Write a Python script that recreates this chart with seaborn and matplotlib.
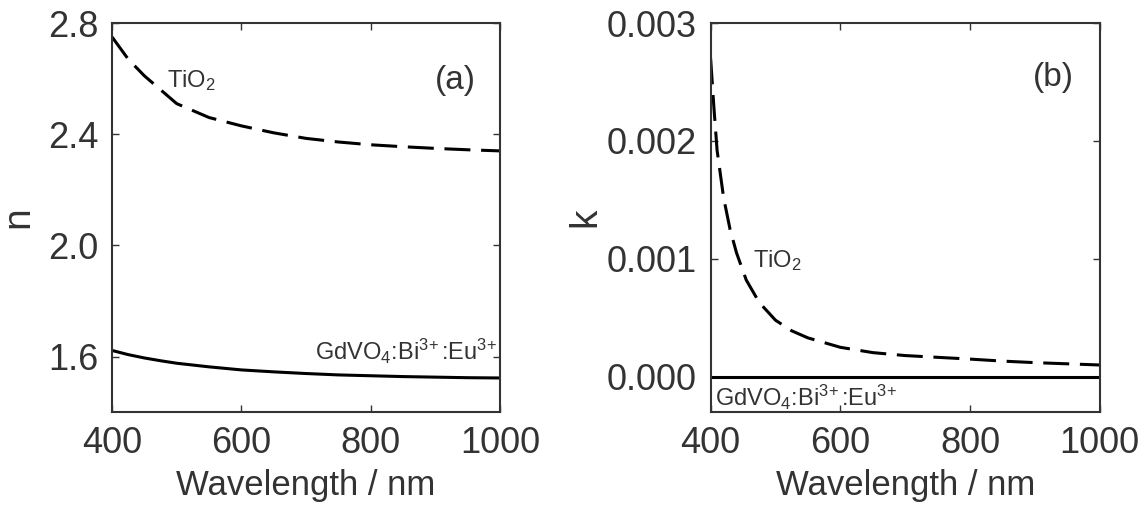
import numpy as np
import pandas as pd
import matplotlib
matplotlib.use("Agg")
import matplotlib.pyplot as plt
import seaborn as sns

# refractive index n (panel a)
wl_n = [400, 425, 450, 475, 500, 550, 600, 650, 700, 750, 800, 850, 900, 950, 1000]
n_tio2 = [2.75, 2.67, 2.61, 2.56, 2.51, 2.46, 2.43, 2.405, 2.385, 2.372, 2.362, 2.355, 2.349, 2.344, 2.34]
n_gdvo4 = [1.622, 1.607, 1.595, 1.585, 1.576, 1.563, 1.552, 1.545, 1.539, 1.534, 1.531, 1.528, 1.526, 1.524, 1.523]

# extinction coefficient k (panel b)
wl_k = [400, 405, 410, 420, 430, 440, 455, 475, 500, 525, 550, 600, 650, 700, 750, 800, 850, 900, 950, 1000]
k_tio2 = [0.0027, 0.00229, 0.00192, 0.00152, 0.00125, 0.00105, 0.00082, 0.00063, 0.00048, 0.00039,
          0.00033, 0.00025, 0.000205, 0.00018, 0.000165, 0.00015, 0.000133, 0.00012, 0.00011, 0.0001]
k_gdvo4 = [0.0] * len(wl_k)

sns.set_style("ticks")
plt.rcParams['font.family'] = ['Liberation Sans', 'DejaVu Sans']
plt.rcParams['mathtext.fontset'] = 'custom'
plt.rcParams['mathtext.rm'] = 'Liberation Sans'
plt.rcParams['mathtext.it'] = 'Liberation Sans'
plt.rcParams['mathtext.default'] = 'regular'

txt = '#333333'
lw = 2.2
gd_label = r'GdVO$_4$:Bi$^{3\!+}$:Eu$^{3\!+}$'

df_n = pd.DataFrame({'wl': wl_n, 'tio2': n_tio2, 'gdvo4': n_gdvo4})
df_k = pd.DataFrame({'wl': wl_k, 'tio2': k_tio2, 'gdvo4': k_gdvo4})

fig = plt.figure(figsize=(11.48, 5.12), dpi=100)
ax1 = fig.add_axes([0.0976, 0.195, 0.338, 0.760])
ax2 = fig.add_axes([0.619, 0.195, 0.339, 0.760])

sns.lineplot(data=df_n, x='wl', y='tio2', ax=ax1, color='black', lw=lw)
ax1.lines[-1].set_dashes((8.5, 3.5))
sns.lineplot(data=df_n, x='wl', y='gdvo4', ax=ax1, color='black', lw=lw)

sns.lineplot(data=df_k, x='wl', y='tio2', ax=ax2, color='black', lw=lw)
ax2.lines[-1].set_dashes((8.5, 3.5))
sns.lineplot(data=df_k, x='wl', y='gdvo4', ax=ax2, color='black', lw=lw)

for ax in (ax1, ax2):
    ax.set_xlim(400, 1000)
    ax.set_xticks([400, 600, 800, 1000])
    ax.tick_params(direction='in', length=5, width=1, top=True, right=True,
                   labelsize=26, labelcolor=txt, color=txt, pad=10)
    for sp in ax.spines.values():
        sp.set_color(txt)
        sp.set_linewidth(1.5)
    ax.set_xlabel('Wavelength / nm', fontsize=25, color=txt, labelpad=6)

ax1.set_ylim(1.4, 2.8)
ax1.set_yticks([1.6, 2.0, 2.4, 2.8])
ax1.set_yticklabels(['1.6', '2.0', '2.4', '2.8'])
ax1.set_ylabel('n', fontsize=28, color=txt, labelpad=8)

ax2.set_ylim(-0.0003, 0.003)
ax2.set_yticks([0.0, 0.001, 0.002, 0.003])
ax2.set_yticklabels(['0.000', '0.001', '0.002', '0.003'])
ax2.set_ylabel('k', fontsize=28, color=txt, labelpad=2)

ax1.text(485, 2.57, r'TiO$_2$', fontsize=17, color=txt, va='baseline')
ax1.text(714, 1.587, gd_label, fontsize=17, color=txt, va='baseline')
ax1.text(963, 2.595, '(a)', fontsize=24, color=txt, ha='right', va='center')

ax2.text(465, 0.00093, r'TiO$_2$', fontsize=17, color=txt, va='baseline')
ax2.text(406, -0.000248, gd_label, fontsize=17, color=txt, va='baseline')
ax2.text(960, 0.00254, '(b)', fontsize=24, color=txt, ha='right', va='center')

fig.savefig('out.png', dpi=100)
